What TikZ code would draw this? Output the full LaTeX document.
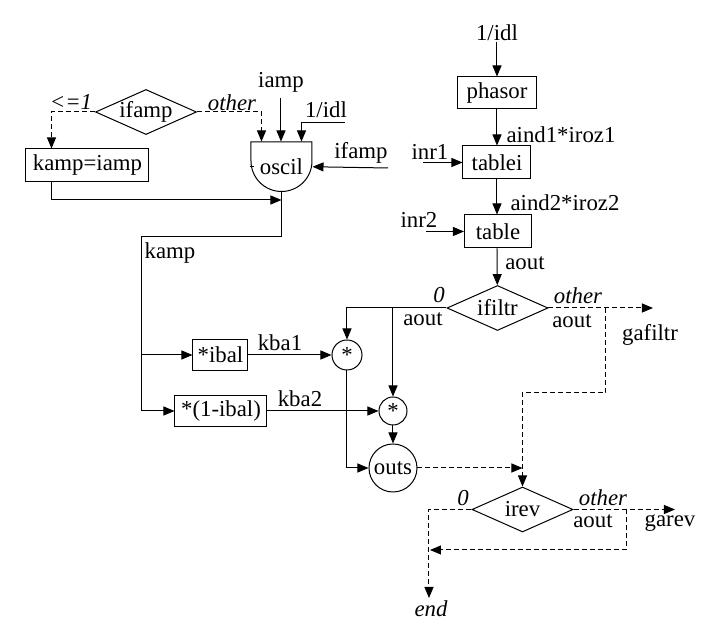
\documentclass[tikz,border=0pt]{standalone}
\usepackage{fontspec}
\setmainfont{Liberation Serif}
\usetikzlibrary{arrows.meta,shapes.geometric}

\tikzset{
  blk/.style={draw,rectangle,inner sep=0pt,minimum height=16.5pt},
  decide/.style={draw,diamond,aspect=2.2,inner sep=0pt,minimum width=50.5pt,minimum height=22.5pt},
  mult/.style={draw,circle,inner sep=0pt,minimum size=#1},
  lbl/.style={inner sep=0pt},
  flow/.style={-{Triangle[length=5.5pt,width=4.5pt]}},
  alt/.style={dash pattern=on 2.5pt off 1.5pt},
}

\begin{document}
\begin{tikzpicture}[x=0.5pt,y=-0.5pt,line width=0.5pt,font=\fontsize{11.4}{13}\selectfont]
  \useasboundingbox[fill=white] (0,0) rectangle (720,641);

  \node[decide] (ifamp) at (146,112) {ifamp};
  \node[blk,minimum width=61.5pt] (kampiamp) at (87.5,165.5) {kamp=iamp};
  \draw (251,142) -- (312,142) -- (312,161) arc[start angle=0,end angle=-180,radius=15.25pt] -- cycle;
  \node[lbl,minimum width=30.5pt,minimum height=24.75pt] (oscil) at (281.5,166.75) {oscil};
  \draw (oscil.west) -- ++(4,0);

  \node[blk,minimum width=39.5pt,minimum height=16pt] (phasor) at (497,93) {phasor};
  \node[blk,minimum width=34pt] (tablei) at (497,162.5) {tablei};
  \node[blk,minimum width=33.5pt] (table) at (498,231.5) {table};
  \node[decide] (ifiltr) at (497.5,308) {ifiltr};
  \node[blk,minimum width=27.5pt,minimum height=15.5pt] (ibalA) at (220.5,355) {*ibal};
  \node[blk,minimum width=46pt,minimum height=15.5pt] (ibalB) at (221,411) {*(1-ibal)};
  \node[mult=15pt] (mulA) at (347,355) {*};
  \node[mult=14pt] (mulB) at (393,411) {*};
  \node[mult=24pt] (outs) at (393,468) {outs};
  \node[decide] (irev) at (522.5,509.5) {irev};

  \node[lbl] at (71,102) {\textit{<=1}};
  \node[lbl] at (232,103) {\textit{other}};
  \node[lbl] (iamp) at (281,82) {iamp};
  \node[lbl] at (326,110) {1/idl};
  \node[lbl] at (361,153) {ifamp};
  \node[lbl] at (170,253) {kamp};
  \node[lbl] (idlB) at (497,33) {1/idl};
  \node[lbl] at (561,135) {aind1*iroz1};
  \node[lbl] at (430,152) {inr1};
  \node[lbl] at (565,203) {aind2*iroz2};
  \node[lbl] at (419,220) {inr2};
  \node[lbl] at (525,263) {aout};
  \node[lbl] at (439,295) {\textit{0}};
  \node[lbl] at (423,319) {aout};
  \node[lbl] at (578,296) {\textit{other}};
  \node[lbl] at (572,321) {aout};
  \node[lbl] at (650,335) {gafiltr};
  \node[lbl] at (280,343) {kba1};
  \node[lbl] at (300,399) {kba2};
  \node[lbl] at (463,498) {\textit{0}};
  \node[lbl] at (603,498) {\textit{other}};
  \node[lbl] at (593,521) {aout};
  \node[lbl] at (670,523) {garev};
  \node[lbl] at (431,609) {\textit{end}};

  \coordinate (idlA) at (345,123);
  \coordinate (ifampin) at (388,168);
  \coordinate (kjoin) at (281.5,200);
  \coordinate (kbus) at (142,237);
  \coordinate (inrA) at (423,162.5);
  \coordinate (inrB) at (426,231.5);
  \coordinate (gafout) at (653,308);
  \coordinate (fsplit) at (606,308);
  \coordinate (garout) at (675,509.5);
  \coordinate (rsplit) at (627,509.5);
  \coordinate (endout) at (429,598);

  \draw[alt,flow] (ifamp.west) -| ([xshift=13pt]kampiamp.north west);
  \draw[alt,flow] (ifamp.east) -| ([xshift=5.5pt]oscil.north west);
  \draw[flow] ([yshift=-3pt]iamp.south) -- (iamp |- oscil.north);
  \draw[flow] (idlA) -| ([xshift=-5.5pt]oscil.north east);
  \draw[flow] (ifampin) -- (oscil.east);
  \draw[flow] ([xshift=13pt]kampiamp.south west) |- (kjoin);
  \draw[flow] (oscil.south) |- (kbus) |- (ibalB.west);
  \draw[flow] (kbus |- ibalA) -- (ibalA);

  \draw[flow] (idlB) -- (phasor);
  \draw[flow] (phasor) -- (tablei);
  \draw[flow] (tablei.south) -- (tablei.south |- table.north);
  \draw[flow] (inrA) -- (tablei);
  \draw[flow] (inrB) -- (table);
  \draw[flow] (tablei.south |- table.south) -- (ifiltr);

  \draw[flow] (ifiltr.west) -| (mulA.north);
  \draw[flow] (mulB |- ifiltr.west) -- (mulB.north);
  \draw[flow] (ibalA) -- (mulA);
  \draw[flow] (ibalB) -- (mulB);
  \draw[flow] (mulA) |- (outs);
  \draw[flow] (mulB) -- (outs);
  \draw[alt,flow] (outs) -- (outs -| irev);

  \draw[alt,flow] (ifiltr) -- (gafout);
  \draw[alt,flow] (fsplit) -- ++(0,85) -| (irev.north);
  \draw[alt,flow] (irev) -- (garout);
  \draw[alt,flow] (rsplit) -- ++(0,40.5) -- ++(-197,0);
  \draw[alt,flow] (irev.west) -| (endout);
\end{tikzpicture}
\end{document}
